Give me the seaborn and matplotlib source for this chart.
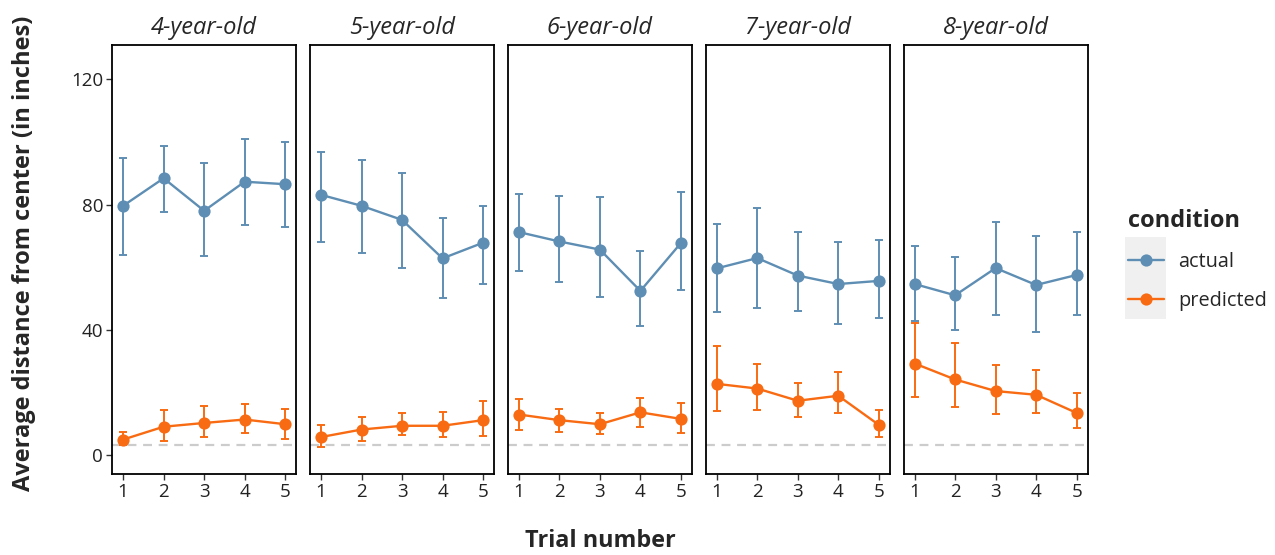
import numpy as np
import pandas as pd
import seaborn as sns
import matplotlib.pyplot as plt
from matplotlib.lines import Line2D
from matplotlib.patches import Rectangle

# Data (one row per age group, trials 1-5)
ages = ['4-year-old', '5-year-old', '6-year-old', '7-year-old', '8-year-old']
trials = [1, 2, 3, 4, 5]
conditions = ['actual', 'predicted']

actual_mean = [[79.6, 88.4, 78.0, 87.3, 86.5],
               [83.1, 79.6, 75.1, 62.8, 67.8],
               [71.2, 68.2, 65.6, 52.4, 67.7],
               [59.6, 62.9, 57.3, 54.6, 55.6],
               [54.6, 51.0, 59.7, 54.3, 57.5]]
actual_lo = [[63.9, 77.7, 63.4, 73.6, 72.8],
             [67.9, 64.5, 59.7, 50.2, 54.7],
             [58.9, 55.3, 50.5, 41.1, 52.8],
             [45.6, 46.8, 46.0, 41.9, 43.9],
             [42.7, 40.0, 44.6, 39.3, 44.6]]
actual_hi = [[94.8, 98.6, 93.3, 101.0, 100.0],
             [96.7, 94.3, 90.2, 75.8, 79.6],
             [83.5, 82.6, 82.3, 65.0, 83.9],
             [73.9, 78.8, 71.2, 68.1, 68.8],
             [66.6, 63.3, 74.4, 70.1, 71.1]]

pred_mean = [[4.9, 9.0, 10.2, 11.3, 9.8],
             [5.7, 8.1, 9.3, 9.3, 11.1],
             [12.9, 11.1, 9.8, 13.6, 11.5],
             [22.7, 21.2, 17.3, 18.9, 9.6],
             [29.2, 24.1, 20.4, 19.2, 13.4]]
pred_lo = [[3.0, 4.5, 5.8, 7.0, 5.1],
           [2.6, 4.5, 6.2, 5.7, 5.9],
           [8.1, 7.2, 6.6, 9.0, 7.0],
           [13.9, 14.2, 12.0, 13.4, 5.6],
           [18.5, 15.4, 13.0, 13.3, 8.7]]
pred_hi = [[7.4, 14.2, 15.6, 16.4, 14.7],
           [9.6, 12.2, 13.4, 13.8, 17.1],
           [18.0, 14.8, 13.4, 18.3, 16.6],
           [34.9, 29.2, 23.0, 26.4, 14.5],
           [42.2, 35.6, 28.8, 27.0, 19.8]]

reference_line = 3
y_ticks = [0, 40, 80, 120]

colors = {'actual': '#5E8EB3', 'predicted': '#F96B12'}

# long table
rows = []
for i, age in enumerate(ages):
    for j, t in enumerate(trials):
        rows.append([age, t, 'actual', actual_mean[i][j], actual_lo[i][j], actual_hi[i][j]])
        rows.append([age, t, 'predicted', pred_mean[i][j], pred_lo[i][j], pred_hi[i][j]])
df = pd.DataFrame(rows, columns=['age', 'trial', 'condition', 'mean', 'lo', 'hi'])

sns.set_style("white")
plt.rcParams['font.family'] = ['Open Sans', 'DejaVu Sans']

fig, axes = plt.subplots(1, 5, figsize=(12.75, 5.55), dpi=100, sharey=True)
fig.subplots_adjust(left=0.088, right=0.853, top=0.919, bottom=0.146, wspace=0.076)

for k, (ax, age) in enumerate(zip(axes, ages)):
    sub = df[df['age'] == age]
    ax.axhline(reference_line, color='#CCCCCC', lw=1.6, ls=(0, (4, 3)), zorder=1)
    for cond in conditions:
        d = sub[sub['condition'] == cond]
        ax.errorbar(d['trial'], d['mean'],
                    yerr=[d['mean'] - d['lo'], d['hi'] - d['mean']],
                    fmt='none', ecolor=colors[cond], elinewidth=1.4,
                    capsize=3, capthick=1.4, zorder=2)
    sns.lineplot(data=sub, x='trial', y='mean', hue='condition', palette=colors,
                 hue_order=conditions, marker='o', markersize=8.8,
                 markeredgewidth=0, linewidth=1.7, legend=False, ax=ax, zorder=3)
    ax.set_title(age, fontsize=17, style='italic', pad=8)
    ax.set_xlim(0.73, 5.27)
    ax.set_ylim(-6.1, 131)
    ax.set_xticks(trials)
    ax.set_yticks(y_ticks)
    ax.set_xlabel('')
    ax.set_ylabel('')
    for s in ax.spines.values():
        s.set_visible(True)
        s.set_color('black')
        s.set_linewidth(1.3)
    ax.tick_params(axis='both', which='both', direction='out', length=4, width=1,
                   color='#333333', labelsize=13.5, labelcolor='#222222',
                   left=(k == 0), bottom=True, pad=2.5)

fig.text(600 / 1275, 1 - 541 / 555, 'Trial number', ha='center', va='center',
         fontsize=16.8, fontweight='bold')
fig.text(24 / 1275, 1 - 253 / 555, 'Average distance from center (in inches)',
         ha='center', va='center', rotation=90, fontsize=17, fontweight='bold')

# legend with grey key background
fig.patches.append(Rectangle((1125 / 1275, 1 - 319 / 555), 41 / 1275, 82 / 555,
                             transform=fig.transFigure, facecolor='#F0F0F0',
                             edgecolor='none', zorder=0))
handles = [Line2D([0], [0], color=colors[c], marker='o', markersize=8.8,
                  markeredgewidth=0, lw=1.7) for c in conditions]
leg = fig.legend(handles, conditions, title='condition', loc='center left',
                 bbox_to_anchor=(1110 / 1275, 1 - 260 / 555), frameon=False,
                 fontsize=14.3, title_fontsize=17, handlelength=1.8,
                 labelspacing=0.95, handletextpad=0.75)
leg.get_title().set_fontweight('bold')
leg._legend_box.align = 'left'

fig.savefig('out.png', dpi=100)
